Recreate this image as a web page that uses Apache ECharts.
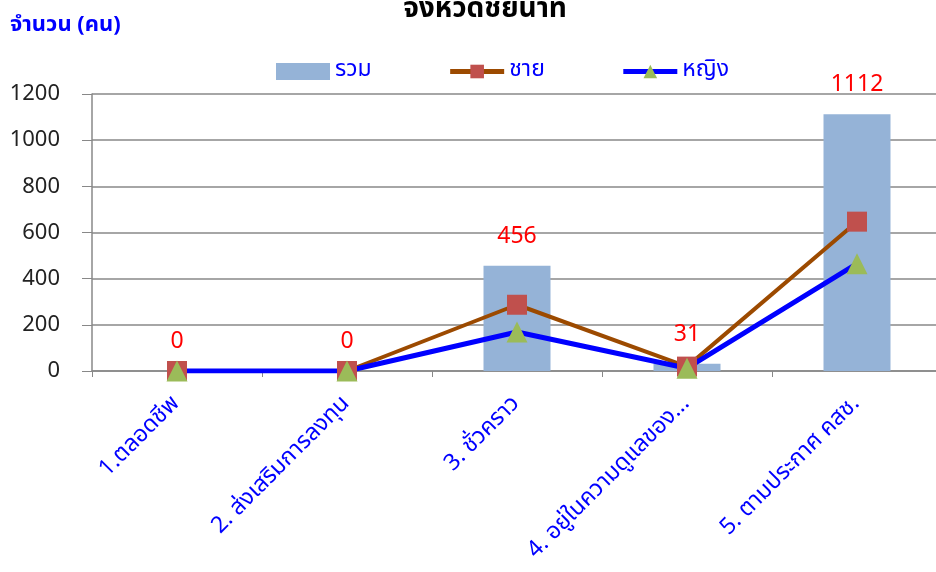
<!DOCTYPE html>
<html><head><meta charset="utf-8">
<script src="https://cdn.jsdelivr.net/npm/echarts@6/dist/echarts.min.js"></script>
<style>html,body{margin:0;padding:0;background:#fff}#c{width:936px;height:572px}</style>
</head><body><div id="c"></div>
<script>
const categories = ['1.ตลอดชีพ', '2. ส่งเสริมการลงทุน', '3. ชั่วคราว', '4. อยู่ในความดูแลของ...', '5. ตามประกาศ คสช.'];
const totalValues = [0, 0, 456, 31, 1112];
const maleValues = [0, 0, 287, 19, 647];
const femaleValues = [0, 0, 169, 12, 465];
const yTicks = [0, 200, 400, 600, 800, 1000, 1200];

const thaiFont = '"Noto Sans Thai", "Noto Sans", "DejaVu Sans", sans-serif';
const chart = echarts.init(document.getElementById('c'));
chart.setOption({
  animation: false,
  title: {
    text: 'จังหวัดชัยนาท', left: 480, top: -8, textAlign: 'center',
    textStyle: { fontFamily: thaiFont, fontSize: 28, fontWeight: 'bold', color: '#000' }
  },
  legend: {
    top: 55, left: 271, itemGap: 76, itemWidth: 54, itemHeight: 17,
    textStyle: { fontFamily: thaiFont, fontSize: 23, color: '#0000FF' },
    data: [
      { name: 'รวม', icon: 'rect', itemStyle: { color: '#95B3D7' } },
      { name: 'ชาย', lineStyle: { width: 5 } },
      { name: 'หญิง', lineStyle: { width: 5 } }
    ]
  },
  grid: { left: 92, top: 94, width: 850, height: 277, outerBoundsMode: 'none', containLabel: false },
  xAxis: {
    type: 'category', data: categories,
    axisLine: { lineStyle: { color: '#888', width: 1.5 } },
    axisTick: { show: true, length: 6, lineStyle: { color: '#888' } },
    axisLabel: { rotate: 45, margin: 30, fontFamily: thaiFont, fontSize: 23, color: '#0000FF' }
  },
  yAxis: {
    type: 'value', min: 0, max: 1200, interval: 200,
    name: 'จำนวน (คน)', nameLocation: 'end', nameGap: 56,
    nameTextStyle: { fontFamily: thaiFont, fontSize: 22, fontWeight: 'bold', color: '#0000FF', align: 'left', padding: [0, 0, 0, -82] },
    axisLine: { show: true, lineStyle: { color: '#888', width: 1.5 } },
    axisTick: { show: true, inside: false, length: 10, lineStyle: { color: '#888' } },
    axisLabel: { fontFamily: '"Noto Sans", sans-serif', fontSize: 22, color: '#222', margin: 32,
      formatter: v => yTicks.includes(v) ? String(v) : '' },
    splitLine: { lineStyle: { color: '#888', width: 1.5 } }
  },
  series: [
    {
      name: 'รวม', type: 'bar', data: totalValues, barWidth: 67,
      itemStyle: { color: '#95B3D7' },
      label: { show: true, position: 'top', distance: 18, color: '#FF0000', fontSize: 23, fontFamily: '"Noto Sans", sans-serif' }
    },
    {
      name: 'ชาย', type: 'line', data: maleValues, symbol: 'rect', symbolSize: 20,
      lineStyle: { color: '#9C4A00', width: 4 },
      itemStyle: { color: '#C0504D' }
    },
    {
      name: 'หญิง', type: 'line', data: femaleValues, symbol: 'triangle', symbolSize: 21,
      lineStyle: { color: '#0000FF', width: 5 },
      itemStyle: { color: '#9BBB59' }
    }
  ]
});
</script></body></html>
